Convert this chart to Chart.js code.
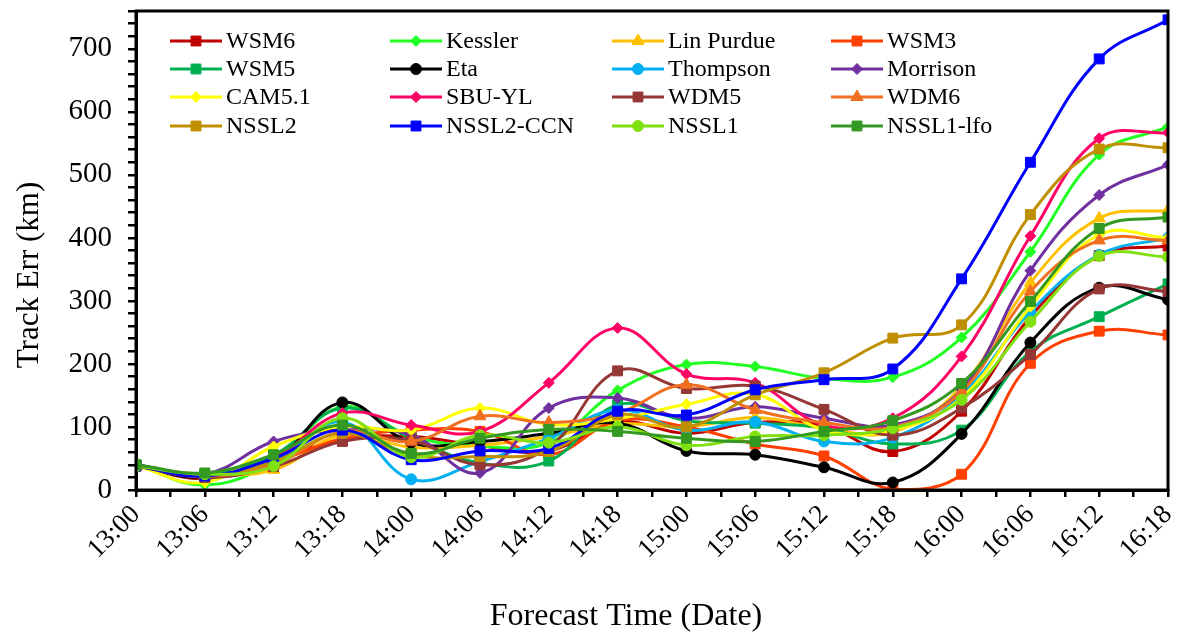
<!DOCTYPE html>
<html>
<head>
<meta charset="utf-8">
<script src="https://cdn.jsdelivr.net/npm/chart.js"></script>
<style>
  html, body { margin: 0; padding: 0; background: #fff; }
  #wrap { width: 1184px; height: 637px; }
</style>
</head>
<body>
<div id="wrap"><canvas id="c" width="1184" height="637"></canvas></div>
<script>
// ---- Data ----
const times = ['13:00','13:06','13:12','13:18','14:00','14:06','14:12','14:18','15:00','15:06','15:12','15:18','16:00','16:06','16:12','16:18'];
const seriesNames = ['WSM6','Kessler','Lin Purdue','WSM3','WSM5','Eta','Thompson','Morrison','CAM5.1','SBU-YL','WDM5','WDM6','NSSL2','NSSL2-CCN','NSSL1','NSSL1-lfo'];
const xTitle = 'Forecast Time (Date)';
const yTitle = 'Track Err (km)';

const wsm6     = [40, 18, 48, 80, 85, 70, 62, 108, 90, 107, 102, 61, 125, 275, 372, 387];
const kessler  = [40, 8, 45, 132, 85, 70, 75, 158, 199, 196, 177, 179, 242, 378, 532, 576];
const linPurdue= [38, 25, 32, 87, 68, 71, 85, 105, 100, 115, 98, 92, 164, 329, 431, 444];
const wsm3     = [38, 22, 45, 81, 95, 93, 56, 110, 100, 73, 54, 1, 25, 201, 252, 246];
const wsm5     = [40, 25, 55, 130, 82, 43, 46, 135, 110, 106, 98, 73, 95, 220, 275, 327];
const eta      = [38, 20, 45, 139, 75, 77, 90, 106, 62, 56, 36, 12, 89, 234, 321, 302];
const thompson = [38, 22, 45, 108, 17, 45, 82, 127, 95, 108, 77, 83, 151, 283, 373, 400];
const morrison = [40, 25, 77, 95, 87, 27, 130, 146, 114, 132, 114, 103, 159, 348, 468, 516];
const cam51    = [38, 12, 69, 100, 95, 130, 104, 113, 136, 152, 95, 95, 146, 291, 405, 400];
const sbuYL    = [40, 22, 50, 122, 103, 93, 170, 257, 184, 170, 103, 114, 212, 403, 558, 567];
const wdm5     = [38, 20, 37, 77, 78, 40, 68, 189, 161, 165, 128, 87, 130, 215, 319, 315];
const wdm6     = [38, 22, 40, 93, 77, 117, 107, 122, 167, 127, 107, 100, 156, 315, 396, 396];
const nssl2    = [38, 22, 45, 90, 55, 53, 61, 119, 100, 151, 186, 241, 262, 437, 541, 543];
const nssl2ccn = [38, 22, 50, 95, 48, 62, 66, 125, 119, 159, 175, 192, 335, 520, 684, 746];
const nssl1    = [38, 25, 38, 114, 52, 87, 75, 100, 71, 85, 87, 98, 143, 267, 371, 370];
const nssl1lfo = [40, 27, 56, 103, 58, 82, 96, 93, 82, 77, 93, 110, 169, 299, 415, 433];

const seriesValues = [wsm6, kessler, linPurdue, wsm3, wsm5, eta, thompson, morrison, cam51, sbuYL, wdm5, wdm6, nssl2, nssl2ccn, nssl1, nssl1lfo];

// ---- Styles ----
const colors = ['#C00000','#22FF22','#FFC000','#FF4000','#00B050','#000000','#00B0F0','#7030A0','#FFFF00','#FF0066','#953735','#F07020','#BF8F00','#0000FF','#80E010','#339920'];
const markers = ['rect','rectRot','triangle','rect','rect','circle','circle','rectRot','rectRot','rectRot','rect','triangle','rect','rect','circle','rect'];
const markerRadius = { rect: 7, rectRot: 5.5, triangle: 7, circle: 5.5 };

const FONT = '"Liberation Serif", "Times New Roman", serif';

const datasets = seriesNames.map((name, i) => ({
  label: name,
  data: seriesValues[i].map((v, k) => ({ x: k, y: v })),
  borderColor: colors[i],
  backgroundColor: colors[i],
  pointBackgroundColor: colors[i],
  pointBorderColor: colors[i],
  pointStyle: markers[i],
  pointRadius: markerRadius[markers[i]],
  pointBorderWidth: 1,
  borderWidth: 3,
  tension: 0.4,
  fill: false,
  order: -i
}));

function drawMarker(ctx, style, x, y, r, color) {
  ctx.fillStyle = color; ctx.strokeStyle = color; ctx.lineWidth = 1;
  if (Chart.helpers && Chart.helpers.drawPoint) {
    Chart.helpers.drawPoint(ctx, { pointStyle: style, radius: r, rotation: 0, borderWidth: 1 }, x, y);
    return;
  }
  ctx.beginPath();
  if (style === 'circle') ctx.arc(x, y, r, 0, Math.PI * 2);
  else if (style === 'rect') { const s = r * Math.SQRT1_2; ctx.rect(x - s, y - s, 2 * s, 2 * s); }
  else if (style === 'rectRot') { ctx.moveTo(x, y - r); ctx.lineTo(x + r, y); ctx.lineTo(x, y + r); ctx.lineTo(x - r, y); ctx.closePath(); }
  else if (style === 'triangle') { ctx.moveTo(x, y - r); ctx.lineTo(x + r * 0.866, y + r * 0.5); ctx.lineTo(x - r * 0.866, y + r * 0.5); ctx.closePath(); }
  ctx.fill(); ctx.stroke();
}

const frameAndLegend = {
  id: 'frameAndLegend',
  afterDatasetsDraw(chart) {
    const { ctx, chartArea: a } = chart;
    ctx.save();
    ctx.strokeStyle = '#000';
    ctx.lineWidth = 3;
    ctx.strokeRect(a.left, a.top, a.right - a.left, a.bottom - a.top);
    ctx.restore();
  },
  afterDraw(chart) {
    const ctx = chart.ctx;
    // axis titles
    ctx.save();
    ctx.fillStyle = '#000';
    ctx.textAlign = 'center';
    ctx.textBaseline = 'middle';
    ctx.font = '32px ' + FONT;
    ctx.fillText(xTitle, 626, 617);
    ctx.translate(30, 275);
    ctx.rotate(-Math.PI / 2);
    ctx.font = '31px ' + FONT;
    ctx.fillText(yTitle, 0, 0);
    ctx.restore();
    // legend
    const colX = [170, 390, 612, 831];
    const rowY = [41, 69, 97, 126];
    chart.data.datasets.forEach((ds, i) => {
      const x = colX[i % 4], y = rowY[Math.floor(i / 4)];
      ctx.save();
      ctx.strokeStyle = ds.borderColor;
      ctx.lineWidth = 3;
      ctx.beginPath(); ctx.moveTo(x, y); ctx.lineTo(x + 52, y); ctx.stroke();
      drawMarker(ctx, ds.pointStyle, x + 26, y, ds.pointRadius, ds.borderColor);
      ctx.fillStyle = '#000';
      ctx.font = '24px ' + FONT;
      ctx.textBaseline = 'middle';
      ctx.textAlign = 'left';
      ctx.fillText(ds.label, x + 56, y + 1);
      ctx.restore();
    });
  }
};

new Chart(document.getElementById('c'), {
  type: 'line',
  data: { datasets },
  plugins: [frameAndLegend],
  options: {
    responsive: false,
    animation: false,
    devicePixelRatio: 1,
    layout: { padding: { top: 11, right: 16, left: 0, bottom: 0 } },
    plugins: { legend: { display: false }, tooltip: { enabled: false } },
    scales: {
      x: {
        type: 'linear',
        min: 0,
        max: times.length - 1,
        afterFit(scale) { scale.height = 147; scale.paddingLeft = 0; scale.paddingRight = 0; },
        border: { display: true, color: '#000', width: 3 },
        grid: { display: true, drawOnChartArea: false, drawTicks: true, tickLength: 7, color: '#000', lineWidth: 2.5 },
        ticks: {
          stepSize: 0.5,
          autoSkip: false,
          maxRotation: 45,
          minRotation: 45,
          padding: 2,
          color: '#000',
          font: { family: FONT, size: 27 },
          callback: (v) => Number.isInteger(v) ? times[v] : ''
        },
        title: { display: false }
      },
      y: {
        min: 0,
        max: 760,
        afterFit(scale) { scale.width = 136; scale.paddingTop = 0; scale.paddingBottom = 0; },
        border: { display: true, color: '#000', width: 3 },
        grid: { display: true, drawOnChartArea: false, drawTicks: true, tickLength: 8, color: '#000', lineWidth: 2.5 },
        ticks: {
          stepSize: 20,
          autoSkip: false,
          padding: 16,
          color: '#000',
          font: { family: FONT, size: 29 },
          callback: (v) => (v % 100 === 0 ? String(v) : '')
        },
        title: { display: false }
      }
    }
  }
});
</script>
</body>
</html>
